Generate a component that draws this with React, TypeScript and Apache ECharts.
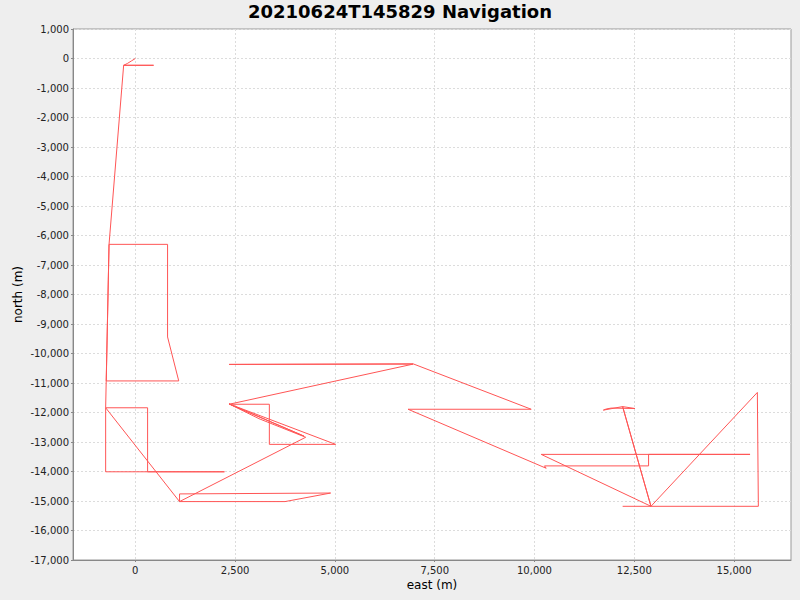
import React, { useEffect, useRef } from "react";
import * as echarts from "echarts";

const titleText = "20210624T145829 Navigation";
const xAxisName = "east (m)";
const yAxisName = "north (m)";

// Track, in order (metres)
const east = [
  0, -100, -200, -292, 458, -292, -658, 808, 808, 1088, -728, -658, -743,
  308, 308, 2233, -743, -743, 1108, 1108, 4893, 3750, 1108, 4268, 3100, 2350,
  4225, 2350, 5018, 3358, 3358, 2350, 6958, 2350, 6958, 9918, 6833, 10293,
  10250, 12858, 12858, 15400, 10168, 12918, 12208, 11725, 11800, 11925, 12518,
  12208, 12918, 15583, 15608, 12208,
];
const north = [
  0, -85, -170, -230, -230, -230, -6300, -6300, -9440, -10930, -10930, -6300,
  -11840, -11840, -14010, -14010, -14010, -11840, -15020, -14760, -14730,
  -15020, -15020, -12840, -12210, -11710, -12800, -11710, -13080, -13080,
  -11720, -11720, -10360, -10370, -10350, -11890, -11890, -13890, -13810,
  -13810, -13420, -13420, -13420, -15180, -11800, -11920, -11880, -11850, -11865,
  -11800, -15180, -11320, -15180, -15180,
];

const xTicks = [0, 2500, 5000, 7500, 10000, 12500, 15000];
const xRange = [-1561, 16426];
const yRange = [-17000, 1000];
const yStep = 1000;

const fmt = (v: number) => Math.round(v).toLocaleString("en-US");

export default function App() {
  const ref = useRef<HTMLDivElement>(null);
  useEffect(() => {
    if (!ref.current) return;
    const chart = echarts.init(ref.current, null, { renderer: "svg" });
    const font = "DejaVu Sans";
    const gridLine = {
      show: true,
      lineStyle: { color: "#dcdcdc", width: 1, type: [2, 2] as any },
    };
    chart.setOption({
      animation: false,
      backgroundColor: "#eeeeee",
      title: {
        text: titleText,
        left: "center",
        top: -3,
        textStyle: {
          fontFamily: font,
          fontSize: 18,
          fontWeight: "bold",
          color: "#000",
        },
      },
      grid: {
        left: 73,
        right: 9,
        top: 29,
        bottom: 40,
        show: true,
        backgroundColor: "#ffffff",
        borderColor: "#999999",
        borderWidth: 1,
      },
      xAxis: {
        type: "value",
        min: xRange[0],
        max: xRange[1],
        name: xAxisName,
        nameLocation: "middle",
        nameGap: 19,
        nameMoveOverlap: false,
        nameTextStyle: { fontFamily: font, fontSize: 12, color: "#000" },
        axisLine: { show: true, onZero: false, lineStyle: { color: "#888888" } },
        axisTick: {
          show: true,
          length: 2,
          customValues: xTicks,
          lineStyle: { color: "#888888" },
        },
        axisLabel: {
          customValues: xTicks,
          formatter: fmt,
          fontFamily: font,
          fontSize: 10,
          color: "#222",
          margin: 5,
        },
        splitLine: gridLine,
      },
      yAxis: {
        type: "value",
        min: yRange[0],
        max: yRange[1],
        interval: yStep,
        name: yAxisName,
        nameLocation: "middle",
        nameGap: 49,
        nameMoveOverlap: false,
        nameRotate: 90,
        nameTextStyle: { fontFamily: font, fontSize: 12, color: "#000" },
        axisLine: { show: true, onZero: false, lineStyle: { color: "#888888" } },
        axisTick: { show: true, length: 2, lineStyle: { color: "#888888" } },
        axisLabel: {
          formatter: fmt,
          fontFamily: font,
          fontSize: 10,
          color: "#222",
          margin: 4,
        },
        splitLine: gridLine,
      },
      series: [
        {
          type: "line",
          data: east.map((e, i) => [e, north[i]]),
          showSymbol: false,
          symbol: "none",
          lineStyle: { color: "#ff5555", width: 1 },
          itemStyle: { color: "#ff5555" },
        },
      ],
    });
    return () => chart.dispose();
  }, []);
  return <div ref={ref} style={{ width: 800, height: 600, position: "absolute", left: 0, top: 0 }} />;
}
